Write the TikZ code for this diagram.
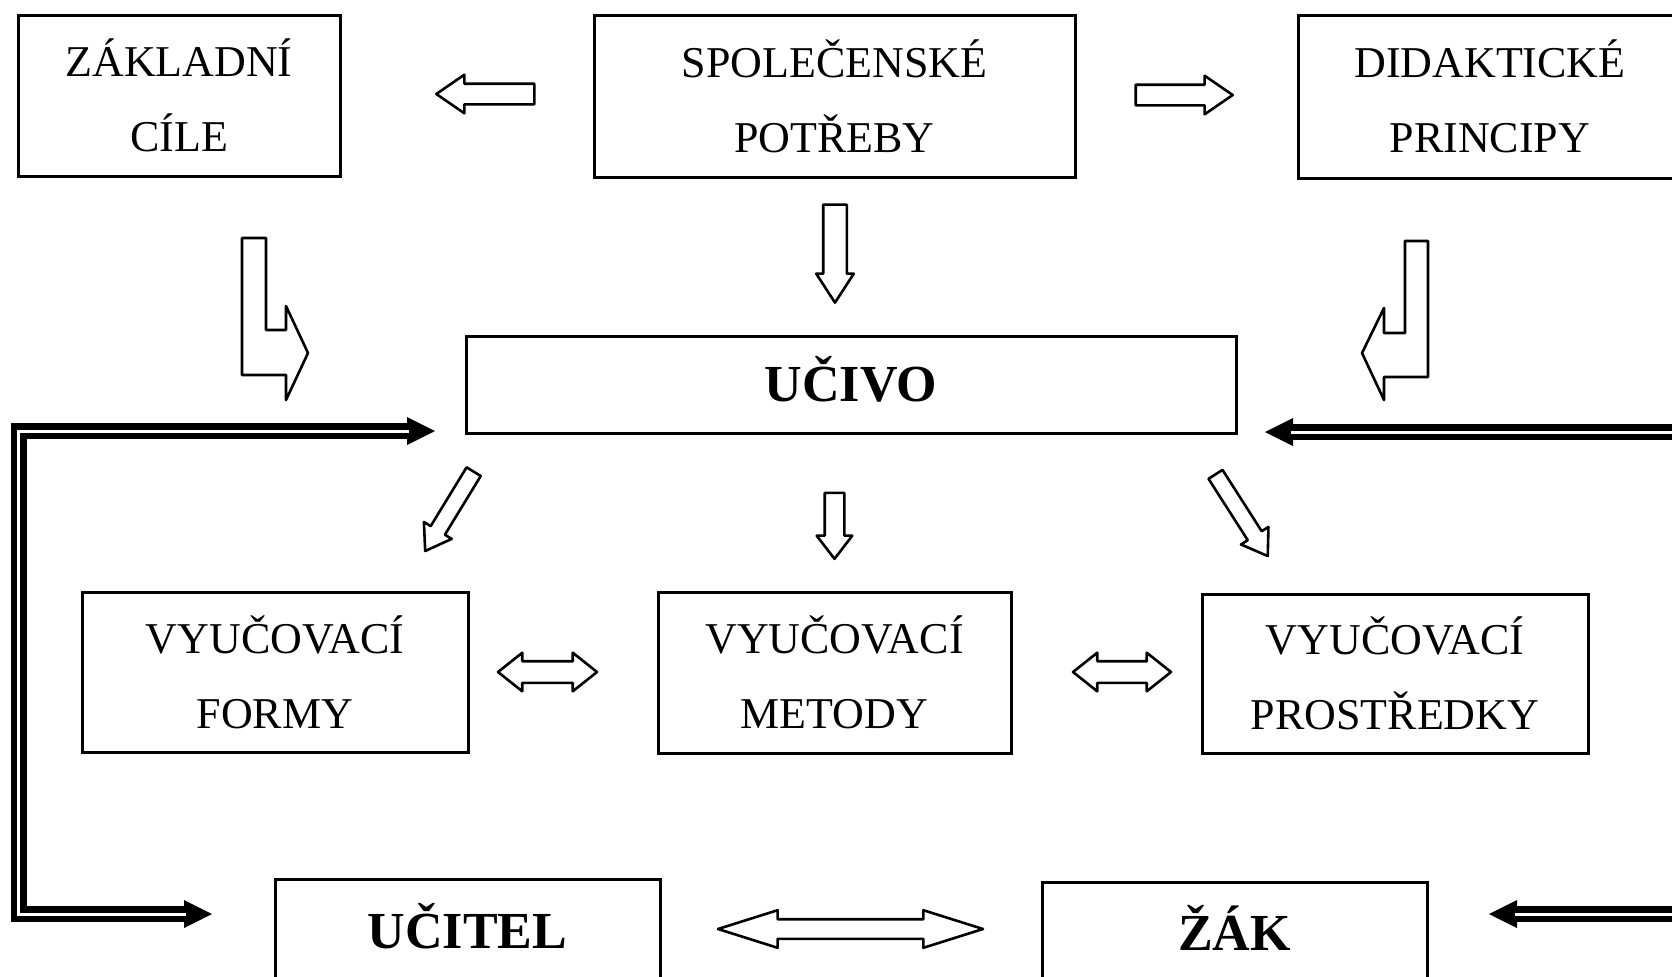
\documentclass[tikz,border=0pt]{standalone}
\usepackage{fontspec}
\setmainfont{Liberation Serif}
\usetikzlibrary{shapes.arrows,arrows.meta}

\begin{document}
\begin{tikzpicture}[
    x=0.5pt, y=-0.5pt,
    box/.style={rectangle, draw, line width=1.5pt, align=center, inner sep=0pt,
        minimum width=193pt, minimum height=80.5pt,
        font=\fontsize{22pt}{37.5pt}\selectfont},
    keybox/.style={box, minimum height=52pt, text height=17.2pt, text depth=0pt,
        font=\fontsize{26pt}{30pt}\selectfont\bfseries},
    outline/.style={draw, line width=1.3pt, line join=round},
    hollow/.style={outline, fill=white, inner xsep=0pt, minimum width=0pt},
    feed/.style={line width=8pt, -{Triangle[length=14pt, width=14pt, line width=0pt]},
        postaction={draw=white, line width=1.5pt, -, shorten >=13pt}}
]
\useasboundingbox (0,0) rectangle (1672,976);
\clip (0,0) rectangle (1672,976);

% Top row
\node[box, minimum width=161pt] (zaklad) at (179,95.5) {ZÁKLADNÍ\\CÍLE};
\node[box, minimum width=240.5pt, minimum height=81pt] (spolec) at (834.5,96) {SPOLEČENSKÉ\\POTŘEBY};
\node[box, minimum width=192pt, minimum height=81.5pt] (didakt) at (1490,96.5) {DIDAKTICKÉ\\PRINCIPY};

% Curriculum
\node[keybox, minimum width=385pt, minimum height=48.5pt] (ucivo) at (851,384.5) {UČIVO};

% Forms, methods, means
\node[box, minimum height=80pt] (formy) at (275,672) {VYUČOVACÍ\\FORMY};
\node[box, minimum width=176.5pt] (metody) at (834.5,672.5) {VYUČOVACÍ\\METODY};
\node[box, minimum height=79.5pt] (prostr) at (1395,673.5) {VYUČOVACÍ\\PROSTŘEDKY};

% Teacher and pupil
\node[keybox, minimum width=192.5pt] (ucitel) at (467.5,931) {UČITEL};
\node[keybox, minimum width=192.5pt, minimum height=51pt] (zak) at (1234.5,933) {ŽÁK};

% Block arrows, top
\node[hollow, single arrow, rotate=180, anchor=tip, minimum height=49pt, inner ysep=4.5pt,
    single arrow head extend=4.5pt, single arrow tip angle=69] (toZaklad) at (434,94) {};
\node[hollow, single arrow, anchor=tip, minimum height=48.5pt, inner ysep=4.5pt,
    single arrow head extend=4.5pt, single arrow tip angle=69] (toDidakt) at (1235,95) {};
\node[hollow, single arrow, rotate=-90, anchor=tip, minimum height=49pt, inner ysep=5.25pt,
    single arrow head extend=3.5pt, single arrow tip angle=66] (spolecDown) at (835,305) {};

% Bent arrows into the curriculum
\draw[outline] (242,238) -- (266,238) -- (266,330) -- (286,330) -- (286,306) -- (308,353)
    -- (286,400) -- (286,375) -- (242,375) -- cycle;
\draw[outline] (1428,241) -- (1405,241) -- (1405,333) -- (1384,333) -- (1384,308) -- (1362,353)
    -- (1384,400) -- (1384,377) -- (1428,377) -- cycle;

% Block arrows, below the curriculum
\node[hollow, single arrow, rotate=238.6, anchor=tip, minimum height=46.5pt, inner ysep=3.5pt,
    single arrow head extend=4pt, single arrow tip angle=68] (toFormy) at (424,553) {};
\node[hollow, single arrow, rotate=-90, anchor=tip, minimum height=33pt, inner ysep=4.25pt,
    single arrow head extend=4pt, single arrow tip angle=75] (toMetody) at (834.5,561) {};
\node[hollow, single arrow, rotate=-57.4, anchor=tip, minimum height=48.5pt, inner ysep=3.5pt,
    single arrow head extend=4pt, single arrow tip angle=68] (toProstr) at (1269,558) {};

% Two-way arrows
\node[hollow, double arrow, minimum height=49.5pt, inner ysep=4.75pt,
    double arrow head extend=4.25pt, double arrow tip angle=77] (formyMetody) at (547.5,672) {};
\node[hollow, double arrow, minimum height=49pt, inner ysep=4.75pt,
    double arrow head extend=4.25pt, double arrow tip angle=77] (metodyProstr) at (1122,672) {};
\node[hollow, double arrow, minimum height=132.5pt, inner ysep=4.25pt,
    double arrow head extend=4.5pt, double arrow tip angle=35] (ucitelZak) at (850.5,929) {};

% Feedback lines
\coordinate (loopmid) at (18.5,672);
\coordinate (inUcivoL) at (435,431);
\coordinate (inUcitel) at (212,914);
\coordinate (fromR1) at (1700,432);
\coordinate (inUcivoR) at (1265,432);
\coordinate (fromR2) at (1700,914);
\coordinate (inZak) at (1489,914);
\draw[feed] (loopmid) |- (inUcivoL);
\draw[feed] (loopmid) |- (inUcitel);
\draw[feed] (fromR1) -- (inUcivoR);
\draw[feed] (fromR2) -- (inZak);

\end{tikzpicture}
\end{document}
